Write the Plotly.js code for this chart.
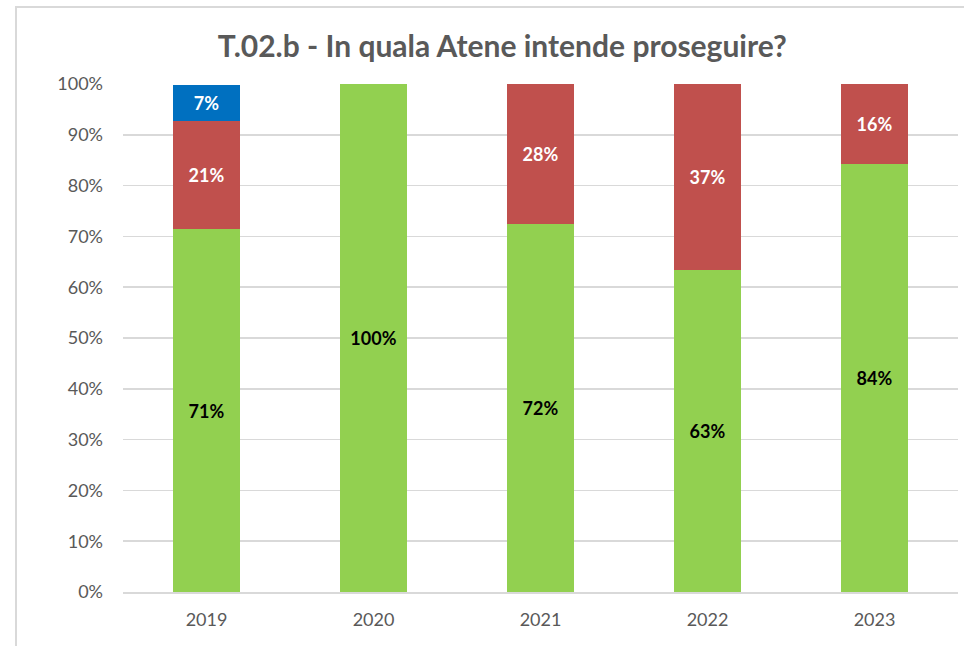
<!DOCTYPE html>
<html>
<head>
<meta charset="utf-8">
<script src="https://cdn.plot.ly/plotly-3.0.1.min.js"></script>
<style>
  html, body { margin: 0; padding: 0; background: #fff; }
  #wrap { position: relative; width: 964px; height: 646px; overflow: hidden; }
  #frame { position: absolute; left: 15px; top: 6px; width: 1000px; height: 700px;
           border-left: 2px solid #d9d9d9; border-top: 2px solid #d9d9d9; pointer-events: none; }
  #chart { position: absolute; left: 0; top: 0; width: 964px; height: 646px; }
</style>
</head>
<body>
<div id="wrap">
  <div id="frame"></div>
  <div id="chart"></div>
</div>
<script>
const years = ['2019', '2020', '2021', '2022', '2023'];
const greenVals = [71.4, 100, 72.4, 63.3, 84.2];
const redVals = [21.4, 0, 27.6, 36.7, 15.8];
const blueVals = [7.1, 0, 0, 0, 0];

function labels(vals) {
  return vals.map(v => v > 0 ? Math.round(v) + '%' : '');
}

const FONT = 'Lato, "Open Sans", sans-serif';

const common = {
  type: 'bar',
  x: years,
  textposition: 'inside',
  insidetextanchor: 'middle',
  textangle: 0,
  constraintext: 'none',
  hoverinfo: 'skip',
  cliponaxis: false
};

const traces = [
  Object.assign({}, common, {
    name: 'green', y: greenVals, text: labels(greenVals), texttemplate: '%{text}',
    marker: { color: '#92D050' },
    textfont: { family: FONT, size: 18, color: '#000000', weight: 'bold' }
  }),
  Object.assign({}, common, {
    name: 'red', y: redVals, text: labels(redVals), texttemplate: '%{text}',
    marker: { color: '#C0504D' },
    textfont: { family: FONT, size: 18, color: '#ffffff', weight: 'bold' }
  }),
  Object.assign({}, common, {
    name: 'blue', y: blueVals, text: labels(blueVals), texttemplate: '%{text}',
    marker: { color: '#0070C0' },
    textfont: { family: FONT, size: 18, color: '#ffffff', weight: 'bold' }
  })
];

const layout = {
  width: 964, height: 646,
  margin: { l: 123, r: 6, t: 84, b: 54, pad: 0 },
  paper_bgcolor: 'rgba(0,0,0,0)',
  plot_bgcolor: 'rgba(0,0,0,0)',
  barmode: 'stack',
  bargap: 0.6,
  showlegend: false,
  font: { family: FONT, color: '#595959' },
  title: {
    text: 'T.02.b - In quala Atene intende proseguire?',
    font: { family: FONT, size: 30, color: '#595959', weight: 'bold' },
    x: 0.521, xanchor: 'center', xref: 'container',
    y: 0.928, yanchor: 'middle', yref: 'container'
  },
  xaxis: {
    type: 'category',
    showline: true, linecolor: '#d9d9d9', linewidth: 2,
    ticks: '', showgrid: false,
    tickfont: { size: 18, color: '#595959' },
    ticklabelstandoff: 10
  },
  yaxis: {
    range: [0, 100], dtick: 10, ticksuffix: '%',
    showgrid: true, gridcolor: '#d9d9d9', gridwidth: 1.5,
    zeroline: false, showline: false, ticks: '',
    tickfont: { size: 18, color: '#595959' },
    ticklabelstandoff: 19
  }
};

Plotly.newPlot('chart', traces, layout, { displayModeBar: false, staticPlot: true });
</script>
</body>
</html>
